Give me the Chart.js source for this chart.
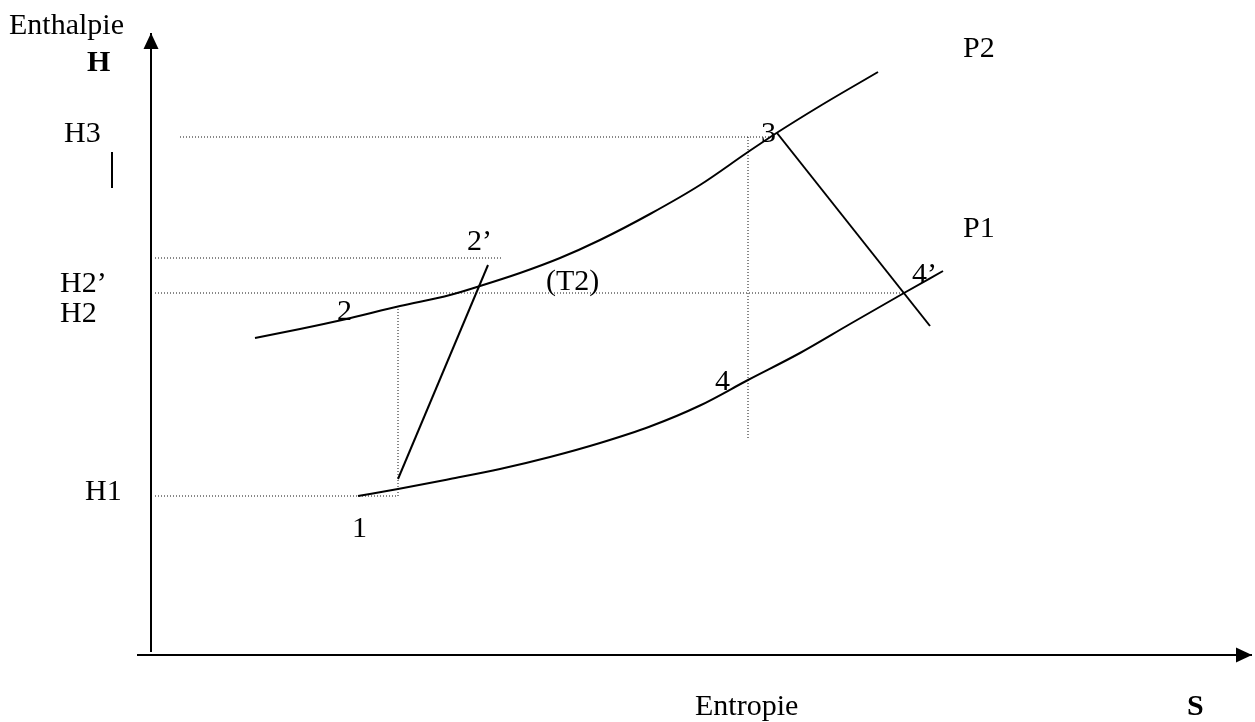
<!DOCTYPE html>
<html>
<head>
<meta charset="utf-8">
<script src="https://cdn.jsdelivr.net/npm/chart.js@4"></script>
<style>
  html, body { margin: 0; padding: 0; background: #fff; }
  #wrap { width: 1255px; height: 722px; }
</style>
</head>
<body>
<div id="wrap"><canvas id="hsChart" width="1255" height="722"></canvas></div>
<script>
// entropie S / enthalpie H, arbitrary units
const p2S = [10.4, 14.9, 19.1, 24.9, 29.9, 32.9, 36.9, 40.9, 44.9, 49.9, 54.9, 59.7, 62.4, 66.9, 72.7];
const p2H = [31.7, 32.6, 33.5, 34.9, 36.0, 36.9, 38.2, 39.7, 41.5, 44.1, 47.0, 50.3, 52.1, 54.9, 58.3];
const p1S = [20.7, 24.7, 29.9, 34.9, 39.9, 44.9, 49.9, 54.9, 59.7, 64.9, 69.9, 75.3, 79.2];
const p1H = [15.9, 16.6, 17.6, 18.6, 19.8, 21.2, 22.85, 24.95, 27.5, 30.2, 33.1, 36.2, 38.4];

// compression 1 -> 2' and detente 3 -> 4'
const compS = [24.7, 33.7];
const compH = [17.6, 39.0];
const detS = [62.6, 77.9];
const detH = [52.2, 32.9];

// dotted levels H1, H2, H2', H3
const levelNames = ['H1', 'H2', 'H2\u2019', 'H3'];
const levelH = [15.9, 36.2, 39.7, 51.8];
const levelFromS = [0.4, 0.4, 0.4, 2.9];
const levelToS = [24.7, 75.4, 35.1, 61.9];
// dotted verticals
const dropS = [24.7, 59.7];
const dropTop = [34.9, 51.8];
const dropBottom = [15.9, 21.7];

// stray mark next to H3
const markS = [-3.9, -3.9];
const markH = [50.3, 46.7];

// axes (end = arrow tip)
const axisS = [-1.4, 110.1];
const axisH = [0.3, 62.2];

// labels: text, S, H (left / baseline)
const pointNames = ['1', '2', '2\u2019', '(T2)', '3', '4', '4\u2019', 'P2', 'P1'];
const pointS = [20.1, 18.6, 31.6, 39.5, 61.0, 56.4, 76.1, 81.2, 81.2];
const pointH = [11.8, 33.5, 40.5, 36.5, 51.3, 26.5, 37.2, 59.8, 41.8];
const levelLabelS = [-6.6, -9.1, -9.1, -8.7];
const levelLabelH = [15.5, 33.3, 36.3, 51.3];
const titleNames = ['Enthalpie', 'H', 'Entropie', 'S'];
const titleBold = [false, true, false, true];
const titleS = [-14.2, -6.4, 54.4, 103.6];
const titleH = [62.1, 58.4, -6.0, -6.0];

function xy(xs, ys) {
    return xs.map((x, i) => ({x: x, y: ys[i]}));
}

function solid(data, smooth) {
    return {
        data: data,
        showLine: true,
        borderColor: '#000',
        borderWidth: 2,
        pointRadius: 0,
        cubicInterpolationMode: smooth ? 'monotone' : 'default',
        tension: smooth ? 0.4 : 0,
        clip: false
    };
}

function dotted(data) {
    return {
        data: data,
        showLine: true,
        borderColor: '#111',
        borderWidth: 1,
        borderDash: [1, 2],
        pointRadius: 0,
        clip: false
    };
}

let datasets = [
    solid(xy(p2S, p2H), true),
    solid(xy(p1S, p1H), true),
    solid(xy(compS, compH)),
    solid(xy(detS, detH)),
    solid(xy(markS, markH)),
    solid([{x: 0, y: axisH[0]}, {x: 0, y: axisH[1]}]),
    solid([{x: axisS[0], y: 0}, {x: axisS[1], y: 0}])
];
levelH.forEach((h, i) => {
    datasets.push(dotted([{x: levelFromS[i], y: h}, {x: levelToS[i], y: h}]));
});
dropS.forEach((s, i) => {
    datasets.push(dotted([{x: s, y: dropTop[i]}, {x: s, y: dropBottom[i]}]));
});

const textPlugin = {
    id: 'hsText',
    afterDatasetsDraw(chart) {
        const ctx = chart.ctx;
        const xs = chart.scales.x, ys = chart.scales.y;
        ctx.save();
        // arrow heads
        ctx.fillStyle = '#000';
        let tx = xs.getPixelForValue(0), ty = ys.getPixelForValue(axisH[1]);
        ctx.beginPath();
        ctx.moveTo(tx, ty);
        ctx.lineTo(tx - 7.5, ty + 16);
        ctx.lineTo(tx + 7.5, ty + 16);
        ctx.closePath();
        ctx.fill();
        tx = xs.getPixelForValue(axisS[1]);
        ty = ys.getPixelForValue(0);
        ctx.beginPath();
        ctx.moveTo(tx, ty);
        ctx.lineTo(tx - 16, ty - 7.5);
        ctx.lineTo(tx - 16, ty + 7.5);
        ctx.closePath();
        ctx.fill();

        ctx.textAlign = 'left';
        ctx.textBaseline = 'alphabetic';
        ctx.font = '30px "Liberation Serif", serif';
        pointNames.forEach((t, i) => {
            ctx.fillText(t, xs.getPixelForValue(pointS[i]), ys.getPixelForValue(pointH[i]));
        });
        levelNames.forEach((t, i) => {
            ctx.fillText(t, xs.getPixelForValue(levelLabelS[i]), ys.getPixelForValue(levelLabelH[i]));
        });
        titleNames.forEach((t, i) => {
            ctx.font = (titleBold[i] ? 'bold ' : '') + '30px "Liberation Serif", serif';
            ctx.fillText(t, xs.getPixelForValue(titleS[i]), ys.getPixelForValue(titleH[i]));
        });
        ctx.restore();
    }
};

new Chart(document.getElementById('hsChart').getContext('2d'), {
    type: 'scatter',
    data: {datasets: datasets},
    options: {
        responsive: false,
        animation: false,
        layout: {padding: 0},
        plugins: {legend: {display: false}, tooltip: {enabled: false}},
        scales: {
            x: {type: 'linear', min: -15.1, max: 110.4, display: false},
            y: {type: 'linear', min: -6.7, max: 65.5, display: false}
        }
    },
    plugins: [textPlugin]
});
</script>
</body>
</html>
